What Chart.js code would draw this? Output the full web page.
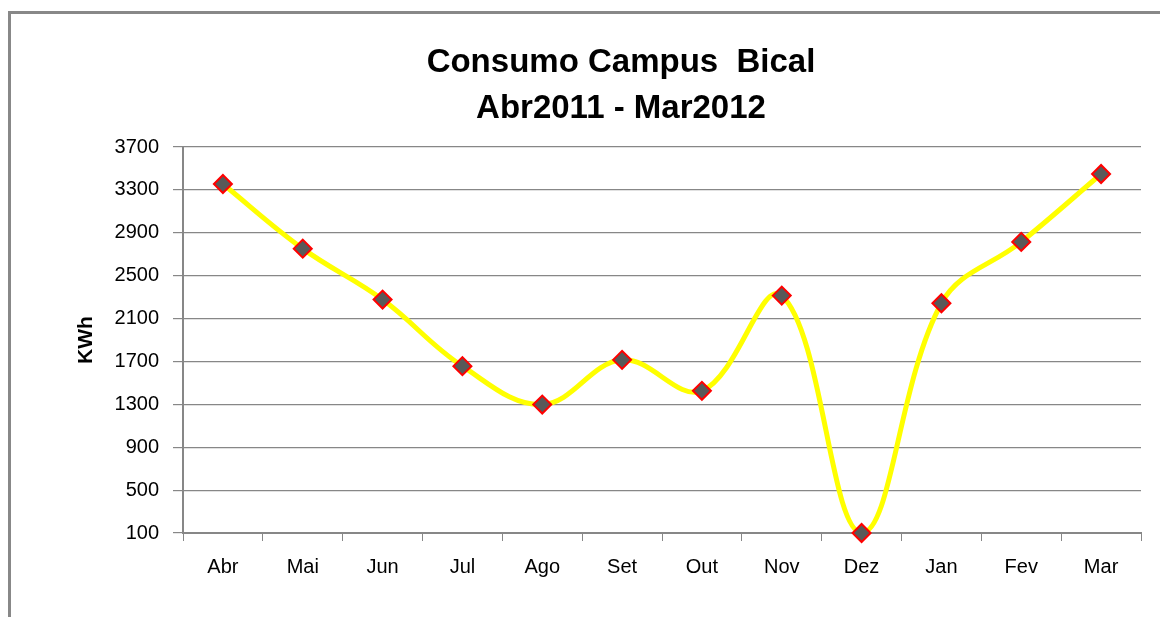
<!DOCTYPE html>
<html>
<head>
<meta charset="utf-8">
<script src="https://cdn.jsdelivr.net/npm/chart.js@4/dist/chart.umd.min.js"></script>
<style>
  html, body { margin: 0; padding: 0; background: #fff; overflow: hidden; width: 1160px; height: 617px; }
  #moldura { position: absolute; left: 8px; top: 11px; width: 1300px; height: 700px;
    border-left: 3px solid #888; border-top: 3px solid #888; }
  #grafico { position: absolute; left: 0; top: 0; }
</style>
</head>
<body>
<div id="moldura"></div>
<canvas id="grafico" width="1242" height="617"></canvas>
<script>
const meses = ["Abr", "Mai", "Jun", "Jul", "Ago", "Set", "Out", "Nov", "Dez", "Jan", "Fev", "Mar"];
const consumo = [3355, 2752, 2277, 1656, 1298, 1715, 1426, 2314, 100, 2243, 2815, 3448];
const titulo = ["Consumo Campus  Bical", "Abr2011 - Mar2012"];
const eixoY = { min: 100, max: 3700, passo: 400 };

const cinza = "#878787";

const ctx = document.getElementById("grafico").getContext("2d");
new Chart(ctx, {
  type: "line",
  data: {
    labels: meses,
    datasets: [{
      label: "Consumo",
      data: consumo,
      borderColor: "#ffff00",
      borderWidth: 5,
      tension: 0.38,
      pointStyle: "rectRot",
      pointRadius: 9,
      pointBackgroundColor: "#595959",
      pointBorderColor: "#ff0000",
      pointBorderWidth: 2,
      pointHoverRadius: 9,
      clip: false
    }]
  },
  options: {
    responsive: false,
    animation: false,
    events: [],
    // padding esquerdo 101 para o título ficar centrado em x=621
    layout: { padding: { top: 22, right: 101, left: 101, bottom: 0 } },
    plugins: {
      legend: { display: false },
      tooltip: { enabled: false },
      title: {
        display: true,
        text: titulo,
        color: "#000",
        font: { family: "Liberation Sans", size: 33, weight: "bold", lineHeight: 1.4 },
        padding: { top: 17.4, bottom: 15.2 }
      }
    },
    scales: {
      x: {
        offset: true,
        afterFit: s => { s.height = 84; },
        grid: { drawOnChartArea: false, offset: true, tickLength: 8, color: cinza, lineWidth: 1 },
        border: { color: cinza, width: 2 },
        ticks: { color: "#000", padding: 14, font: { family: "Liberation Sans", size: 20 } }
      },
      y: {
        min: eixoY.min,
        max: eixoY.max,
        afterFit: s => { s.width = 82; },
        ticks: {
          stepSize: eixoY.passo,
          color: "#000",
          padding: 14,
          font: { family: "Liberation Sans", size: 20 },
          callback: v => String(v)
        },
        grid: { color: cinza, lineWidth: 1.2, tickLength: 10 },
        border: { color: cinza, width: 2 },
        title: {
          display: true,
          text: "KWh",
          color: "#000",
          font: { family: "Liberation Sans", size: 21, weight: "bold", lineHeight: 1.2 },
          padding: { top: -27.6, bottom: 0 }
        }
      }
    }
  }
});
</script>
</body>
</html>
